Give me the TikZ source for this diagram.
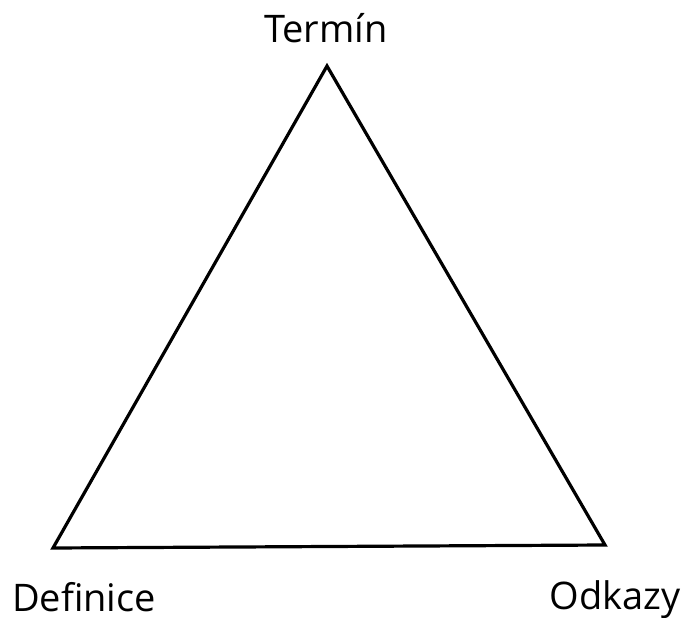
\documentclass[tikz,border=0pt]{standalone}
\usepackage{fontspec}
\setmainfont{Open Sans}
\begin{document}
\begin{tikzpicture}[x=1pt,y=-1pt,
  lbl/.style={font=\fontsize{38}{42}\selectfont, inner sep=0pt, anchor=base},
  edge/.style={line width=3.2pt, line join=miter}]
\useasboundingbox (0,0) rectangle (689,618);
\coordinate (T) at (327,66);
\coordinate (D) at (53,548);
\coordinate (O) at (605,545);
\draw[edge] (T) -- (O) -- (D) -- cycle;
\node[lbl] (lt) at (326,43) {Termín};
\node[lbl] (ld) at (84,611) {Definice};
\node[lbl] (lo) at (615,609) {Odkazy};
\end{tikzpicture}
\end{document}
